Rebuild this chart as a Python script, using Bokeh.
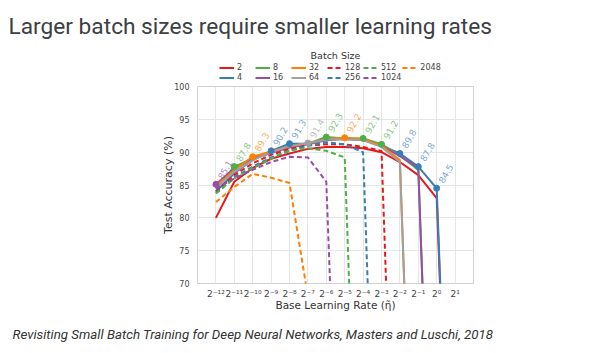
from bokeh.plotting import figure
from bokeh.layouts import column
from bokeh.models import Range1d, Legend, LegendItem, FixedTicker, ColumnDataSource, Title, Label
from bokeh.embed import file_html
from bokeh.resources import INLINE
from bokeh.core.properties import value

# ---- data (log2 of base learning rate, test accuracy %) ----
lr_exp = [-12, -11, -10, -9, -8, -7, -6, -5, -4, -3, -2, -1, 0, 1]
x_ticks = [-12, -11, -10, -9, -8, -7, -6, -5, -4, -3, -2, -1, 0, 1]
x_tick_labels = ["2⁻¹²", "2⁻¹¹", "2⁻¹⁰", "2⁻⁹", "2⁻⁸", "2⁻⁷", "2⁻⁶",
                 "2⁻⁵", "2⁻⁴", "2⁻³", "2⁻²", "2⁻¹", "2⁰", "2¹"]
y_ticks = [70, 75, 80, 85, 90, 95, 100]

batch_sizes = ["2", "4", "8", "16", "32", "64", "128", "256", "512", "1024", "2048"]
acc_2 = [80.0, 85.5, 87.6, 89.0, 89.8, 90.5, 90.8, 90.8, 90.6, 90.0, 88.5, 86.5, 83.0, 10.0]
acc_4 = [84.0, 86.8, 88.8, 90.2, 91.3, 91.3, 92.0, 92.0, 91.9, 91.0, 89.8, 87.8, 84.5, 10.0]
acc_8 = [84.5, 87.8, 89.0, 90.0, 91.0, 91.3, 92.3, 92.1, 92.1, 91.2, 89.5, 87.3, 10.0]
acc_16 = [85.1, 87.5, 88.9, 89.9, 90.7, 91.2, 91.8, 92.0, 91.9, 91.0, 89.4, 87.6, 10.0]
acc_32 = [84.8, 87.3, 89.3, 90.1, 90.9, 91.3, 92.0, 92.2, 92.0, 91.0, 88.8, 10.0]
acc_64 = [84.5, 87.0, 88.8, 90.0, 90.9, 91.4, 91.9, 92.0, 91.8, 90.8, 88.5, 10.0]
acc_128 = [84.0, 86.5, 88.3, 89.6, 90.5, 91.0, 91.2, 91.2, 90.8, 90.2, 10.0]
acc_256 = [83.8, 86.2, 87.8, 89.2, 90.2, 91.0, 91.5, 91.2, 90.0, 10.0]
acc_512 = [83.7, 86.0, 87.6, 89.0, 90.3, 90.6, 90.2, 89.2, 10.0]
acc_1024 = [84.4, 86.0, 87.3, 88.5, 89.3, 89.2, 85.5, 10.0]
acc_2048 = [82.4, 84.7, 86.7, 86.1, 85.3, 68.0]

series = [acc_2, acc_4, acc_8, acc_16, acc_32, acc_64,
          acc_128, acc_256, acc_512, acc_1024, acc_2048]
palette = ["#e41a1c", "#377eb8", "#4daf4a", "#984ea3", "#ff7f00", "#a0a0a0"]
colors = [palette[i] if i < 6 else palette[i - 6] for i in range(len(series))]
dashes = ["solid"] * 6 + ["5 3"] * 5

TXT = "#444444"
CHART_FONT = "DejaVu Sans"
TOP_H = 82          # height of the header strip
HEAD_TOP = 45       # header frame starts here

# ---------- header: title, legend title and legend ----------
head = figure(width=612, height=TOP_H, output_backend="svg", toolbar_location=None,
              title=None,
              x_range=Range1d(197, 473), y_range=Range1d(0, TOP_H - HEAD_TOP),
              min_border_left=0, min_border_right=0,
              min_border_top=HEAD_TOP, min_border_bottom=0,
              x_axis_location=None, y_axis_location=None,
              background_fill_color="white", border_fill_color="white")
head.outline_line_color = None
head.grid.visible = False
head.add_layout(Title(text="Larger batch sizes require smaller learning rates",
                      align="left", offset=-189, text_font="Roboto",
                      text_font_size="22.7px", text_font_style="normal",
                      text_color="#3c4043", standoff=11), "above")
head.add_layout(Label(x=335, y=TOP_H - 55, text="Batch Size", text_font=CHART_FONT,
                      text_font_size="9.5px", text_color="#333333",
                      text_align="center", text_baseline="middle"))
items = []
for name, vals, c, d in zip(batch_sizes, series, colors, dashes):
    # same series, but it lies outside this strip's ranges: it only feeds the legend
    proxy = head.line(lr_exp[:len(vals)], vals, line_color=c, line_width=2, line_dash=d)
    items.append(LegendItem(label=name, renderers=[proxy]))
head.add_layout(Legend(items=items, orientation="vertical", nrows=2,
                       location=(22, 0), glyph_width=15, glyph_height=9,
                       label_standoff=3, label_width=17, label_height=9,
                       spacing=1, padding=0, margin=0,
                       label_text_font=CHART_FONT, label_text_font_size="8px",
                       label_text_color=TXT,
                       border_line_alpha=0, background_fill_alpha=0))

# ---------- main chart ----------
p = figure(width=612, height=353 - TOP_H, output_backend="svg", toolbar_location=None,
           title=None,
           x_range=Range1d(-13, 2), y_range=Range1d(70, 100),
           min_border_left=197, min_border_right=139,
           min_border_top=86 - TOP_H, min_border_bottom=70,
           background_fill_color="white", border_fill_color="white")
p.outline_line_color = "#d0d0d0"
p.grid.grid_line_color = "#e6e6e6"
p.xaxis.ticker = FixedTicker(ticks=x_ticks)
p.yaxis.ticker = FixedTicker(ticks=y_ticks)
p.xaxis.major_label_overrides = {t: l for t, l in zip(x_ticks, x_tick_labels)}
for ax in (p.xaxis[0], p.yaxis[0]):
    ax.axis_line_color = None
    ax.major_tick_line_color = None
    ax.minor_tick_line_color = None
    ax.major_label_text_font = CHART_FONT
    ax.major_label_text_color = TXT
    ax.axis_label_text_font = CHART_FONT
    ax.axis_label_text_font_style = "normal"
    ax.axis_label_text_color = "#333333"
p.xaxis.major_label_text_font_size = "9px"
p.yaxis.major_label_text_font_size = "8px"
p.xaxis.major_label_standoff = -1
p.yaxis.major_label_standoff = 2
p.xaxis.axis_label = "Base Learning Rate (η̃)"
p.yaxis.axis_label = "Test Accuracy (%)"
p.xaxis.axis_label_text_font_size = "10.5px"
p.yaxis.axis_label_text_font_size = "11px"
p.xaxis.axis_label_standoff = -3
p.yaxis.axis_label_standoff = -4

for name, vals, c, d in zip(batch_sizes, series, colors, dashes):
    p.line(lr_exp[:len(vals)], vals, line_color=c, line_width=2, line_dash=d)

# best accuracy at each learning rate, marked and annotated
bx, by, bc, bt = [], [], [], []
for i, e in enumerate(lr_exp[:13]):
    best = None
    for vals, c in zip(series, colors):
        if i < len(vals) and (best is None or vals[i] > best[0]):
            best = (vals[i], c)
    bx.append(e); by.append(best[0]); bc.append(best[1]); bt.append(f"{best[0]:.1f}")
src = ColumnDataSource(dict(x=bx, y=by, c=bc, t=bt))
p.scatter("x", "y", source=src, size=6, fill_color="c", line_color="c")
p.text("x", "y", text="t", source=src, angle=60, angle_units="deg",
       x_offset=4, y_offset=-6, text_color="c", text_alpha=0.7,
       text_font=value(CHART_FONT), text_font_size="9px",
       text_align="left", text_baseline="middle")

p.add_layout(Title(text="Revisiting Small Batch Training for Deep Neural Networks, Masters and Luschi, 2018",
                   align="left", offset=-185, text_font="Roboto",
                   text_font_size="13.3px", text_font_style="italic",
                   text_color="#333333", standoff=22), "below")

layout = column(head, p, spacing=0)
open("out.html", "w").write(file_html(layout, INLINE))
